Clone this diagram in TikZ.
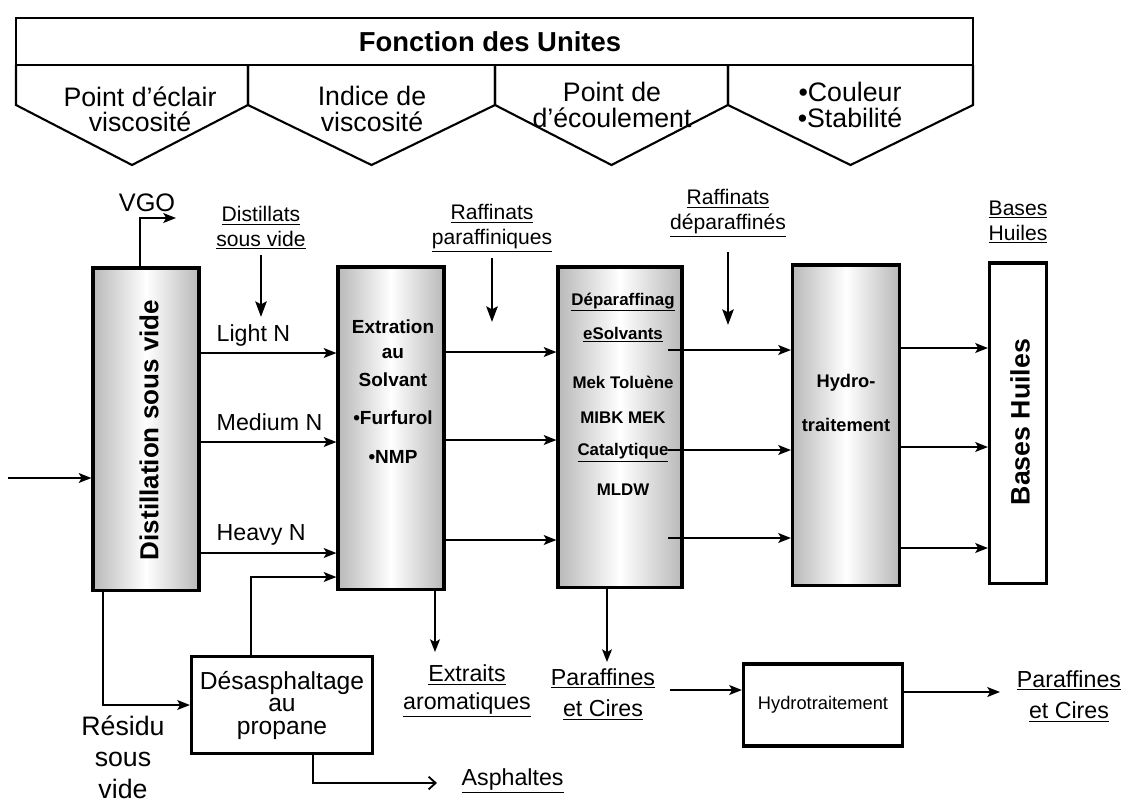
\documentclass[tikz,border=0pt]{standalone}
\usepackage{fontspec}
\setmainfont{Liberation Sans}
\usetikzlibrary{arrows.meta, calc}

\tikzset{
  px/.style={x=0.025cm, y=-0.025cm},
  colbox/.style={draw, line width=2.2pt, left color=gray!55, right color=gray!55, middle color=white, inner sep=0pt},
  plainbox/.style={draw, line width=2.2pt, fill=white, inner sep=0pt, align=center},
  flow/.style={line width=1.3pt, -{Stealth[length=9pt,width=7pt,inset=2pt]}},
  feed/.style={line width=2pt, -{Stealth[length=11pt,width=8pt,inset=2pt]}},
  barb/.style={line width=1.3pt, -{Straight Barb[length=5pt,width=9pt]}},
  txt/.style={font=\fontsize{16.5}{21}\selectfont, align=center, inner sep=1pt},
  ultxt/.style={font=\fontsize{15}{17.7}\selectfont, align=center, inner sep=1pt},
  hdr/.style={font=\fontsize{19}{18}\selectfont, align=center, inner sep=0pt},
  exbox/.style={font=\bfseries\fontsize{13.5}{15}\selectfont, inner sep=1pt},
  dpbox/.style={font=\bfseries\fontsize{12}{13}\selectfont, inner sep=1pt},
}

\begin{document}
\begin{tikzpicture}[px]
\useasboundingbox (0,0) rectangle (1126,805);

% fonction des unites
\draw[line width=1.5pt] (16,18) rectangle (973,65);
\node[hdr, font=\bfseries\fontsize{19.5}{22}\selectfont] (fonction) at (490,42) {Fonction des Unites};
\foreach \a/\b in {16/248, 248/495, 495/728, 728/973}
  \draw[line width=1.5pt] (\a,65) -- (\a,105) -- ({(\a+\b)/2},165) -- (\b,105) -- (\b,65);
\node[hdr] (f1) at (140,109) {Point d’éclair\\viscosité};
\node[hdr] (f2) at (372,109) {Indice de\\viscosité};
\node[hdr] (f3) at (612,105) {Point de\\d’écoulement};
\node[hdr] (f4) at (850,105) {•Couleur\\•Stabilité};

% unites
\node[colbox, minimum width=2.65cm, minimum height=8.05cm] (dist) at (146,429) {};
\node[colbox, minimum width=2.65cm, minimum height=8.05cm] (extr) at (391,428) {};
\node[colbox, minimum width=3.1cm, minimum height=8cm] (depar) at (620,427) {};
\node[colbox, minimum width=2.675cm, minimum height=8cm] (hydro) at (846,425) {};
\node[plainbox, minimum width=1.425cm, minimum height=8cm] (bases) at (1018,423) {};
\node[plainbox, minimum width=4.525cm, minimum height=2.425cm, font=\fontsize{17.5}{16}\selectfont] (desas) at (282,705) {Désasphaltage\\au\\propane};
\node[plainbox, minimum width=3.975cm, minimum height=2.05cm, font=\fontsize{13}{15}\selectfont] (hydrot) at (823,705) {Hydrotraitement};

\node[rotate=90, font=\bfseries\fontsize{18.5}{20}\selectfont] (dist-t) at (149,430) {Distillation sous vide};
\node[rotate=90, font=\bfseries\fontsize{19}{20}\selectfont] (bases-t) at (1020,422) {Bases Huiles};
\foreach \y/\lbl [count=\i] in {327/Extration, 353/au, 380/Solvant, 418/•Furfurol, 457/•NMP}
  \node[exbox] (ex-\i) at (393,\y) {\lbl};
\foreach \y/\lbl [count=\i] in {302/\underline{Déparaffinag}, 335/\underline{eSolvants}, 382/Mek Toluène, 418/MIBK MEK, 453/\underline{Catalytique}, 490/MLDW}
  \node[dpbox] (dp-\i) at (623,\y) {\lbl};
\node[exbox, font=\bfseries\fontsize{13}{15}\selectfont] (hy-1) at (846,383) {Hydro-};
\node[exbox, font=\bfseries\fontsize{13}{15}\selectfont] (hy-2) at (846,425) {traitement};

% etiquettes
\node[txt, font=\fontsize{18}{20}\selectfont] (vgo) at (147,203) {VGO};
\node[ultxt] (dsv) at (261,228) {\underline{Distillats}\\\underline{sous vide}};
\node[ultxt] (rp) at (492,228) {\underline{Raffinats}\\\underline{paraffiniques}};
\node[ultxt] (rd) at (728,213) {\underline{Raffinats}\\\underline{déparaffinés}};
\node[ultxt] (bh) at (1018,222) {\underline{Bases}\\\underline{Huiles}};
\foreach \y/\lbl/\n in {335/Light N/ln, 422/Medium N/mn, 535/Heavy N/hn}
  \node[txt, anchor=west] (\n) at (215,\y) {\lbl};
\node[txt, font=\fontsize{19}{22.5}\selectfont] (residu) at (123,757) {Résidu\\sous\\vide};
\node[txt, font=\fontsize{16.5}{19.8}\selectfont] (extraits) at (467,691) {\underline{Extraits}\\\underline{aromatiques}};
\node[txt, font=\fontsize{16.5}{22.6}\selectfont] (par1) at (603,694) {\underline{Paraffines}\\\underline{et Cires}};
\node[txt, font=\fontsize{16.5}{22.6}\selectfont] (par2) at (1069,696) {\underline{Paraffines}\\\underline{et Cires}};
\node[txt, anchor=west] (asph) at (460,781) {\underline{Asphaltes}};

% flux
\coordinate (crude) at (8,478);
\coordinate (vgo-out) at (176,218);
\coordinate (ext-in) at (435,652);
\coordinate (par-in) at (607,662);
\coordinate (par-out) at (670,690);
\coordinate (pc-in) at (1000,692);
\coordinate (asph-in) at (437,783);

\draw[flow] (crude) -- (crude -| dist.west);
\draw[flow] (dist.north -| 140,0) |- (vgo-out);
\draw[feed] (dsv.south |- 0,255) -- (dsv.south |- 0,317);
\draw[feed] (rp.south |- 0,258) -- (rp.south |- 0,322);
\draw[feed] (rd.south |- 0,252) -- (rd.south |- 0,325);

\foreach \ya/\yb/\yc/\yd in {353/352/350/348, 442/440/450/447, 553/540/538/548} {
  \coordinate (dpo) at (668,\yc);
  \draw[flow] (dist.east |- 0,\ya) -- (extr.west |- 0,\ya);
  \draw[flow] (extr.east |- 0,\yb) -- (depar.west |- 0,\yb);
  \draw[flow] (dpo) -- (dpo -| hydro.west);
  \draw[flow] (hydro.east |- 0,\yd) -- (bases.west |- 0,\yd);
}

\draw[flow] (dist.south -| 103,0) |- (desas.west);
\draw[flow] (desas.north -| 251,0) |- (extr.west |- 0,577);
\draw[barb] (desas.south -| 313,0) |- (asph-in);
\draw[flow] (extr.south -| ext-in) -- (ext-in);
\draw[flow] (depar.south -| par-in) -- (par-in);
\draw[flow] (par-out) -- (par-out -| hydrot.west);
\draw[flow] (hydrot.east |- pc-in) -- (pc-in);

\end{tikzpicture}
\end{document}
